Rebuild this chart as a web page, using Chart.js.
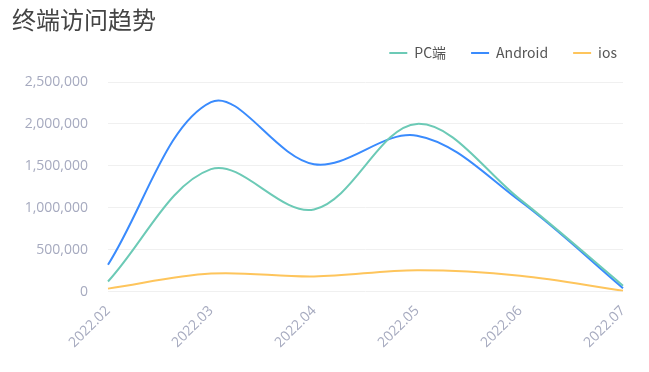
<!DOCTYPE html>
<html>
<head>
<meta charset="utf-8">
<script src="https://cdn.jsdelivr.net/npm/chart.js@4/dist/chart.umd.min.js"></script>
<style>
  html, body { margin: 0; padding: 0; background: #fff; }
  #wrap { width: 649px; height: 372px; position: relative; }
</style>
</head>
<body>
<div id="wrap"><canvas id="myChart"></canvas></div>
<script>
// months on the x axis
var months = ["2022.02", "2022.03", "2022.04", "2022.05", "2022.06", "2022.07"];
var pcValues = [120000, 1460000, 980000, 2000000, 1100000, 70000];
var androidValues = [320000, 2260000, 1520000, 1860000, 1080000, 40000];
var iosValues = [35000, 215000, 180000, 255000, 190000, 10000];
var yTicks = [0, 500000, 1000000, 1500000, 2000000, 2500000];

var tickColor = "#a6aabf";

// pull the title and legend back up, the plot area keeps its place
var liftHeader = {
    id: "liftHeader",
    afterLayout: function (chart) {
        if (chart.titleBlock) {
            chart.titleBlock.top -= 10;
            chart.titleBlock.bottom -= 10;
        }
        if (chart.legend) {
            chart.legend.top -= 12;
            chart.legend.bottom -= 12;
        }
    }
};

new Chart("myChart", {
    type: "line",
    data: {
        labels: months,
        datasets: [
            { label: "PC端", data: pcValues, borderColor: "#6ccab6", backgroundColor: "#6ccab6", borderWidth: 2 },
            { label: "Android", data: androidValues, borderColor: "#3a8bfd", backgroundColor: "#3a8bfd", borderWidth: 2 },
            { label: "ios", data: iosValues, borderColor: "#fec55c", backgroundColor: "#fec55c", borderWidth: 2 }
        ]
    },
    plugins: [liftHeader],
    options: {
        responsive: true,
        maintainAspectRatio: false,
        animation: false,
        layout: { padding: { left: 12, right: 7, top: 5, bottom: 18 } },
        elements: {
            line: { tension: 0.35 },
            point: { radius: 0 }
        },
        plugins: {
            title: {
                display: true,
                text: "终端访问趋势",
                align: "start",
                color: "#444",
                font: { size: 24, family: "'Noto Sans CJK SC', sans-serif", weight: "normal" },
                padding: { top: 0, bottom: -11 }
            },
            legend: {
                align: "end",
                labels: {
                    usePointStyle: true,
                    pointStyle: "line",
                    pointStyleWidth: 18,
                    boxHeight: 3,
                    color: "#555",
                    padding: 25,
                    font: { size: 14, family: "'Noto Sans CJK SC', sans-serif" }
                }
            },
            tooltip: { enabled: false }
        },
        scales: {
            x: {
                grid: { display: false },
                border: { display: false },
                afterFit: function (axis) { axis.paddingRight = 26; },
                ticks: {
                    color: tickColor,
                    maxRotation: 45,
                    minRotation: 45,
                    font: { size: 14, family: "'Open Sans', sans-serif" }
                }
            },
            y: {
                min: 0,
                max: 2500000,
                afterBuildTicks: function (axis) {
                    axis.ticks = yTicks.map(function (v) { return { value: v }; });
                },
                afterFit: function (axis) {
                    axis.width = 96;
                    axis.paddingTop = 82;
                },
                grid: { color: "#f0f0f0", drawTicks: false },
                border: { display: false },
                ticks: {
                    color: tickColor,
                    padding: 20,
                    font: { size: 14, family: "'Open Sans', sans-serif" },
                    callback: function (v) { return new Intl.NumberFormat("en-US").format(v); }
                }
            }
        }
    }
});
</script>
</body>
</html>
